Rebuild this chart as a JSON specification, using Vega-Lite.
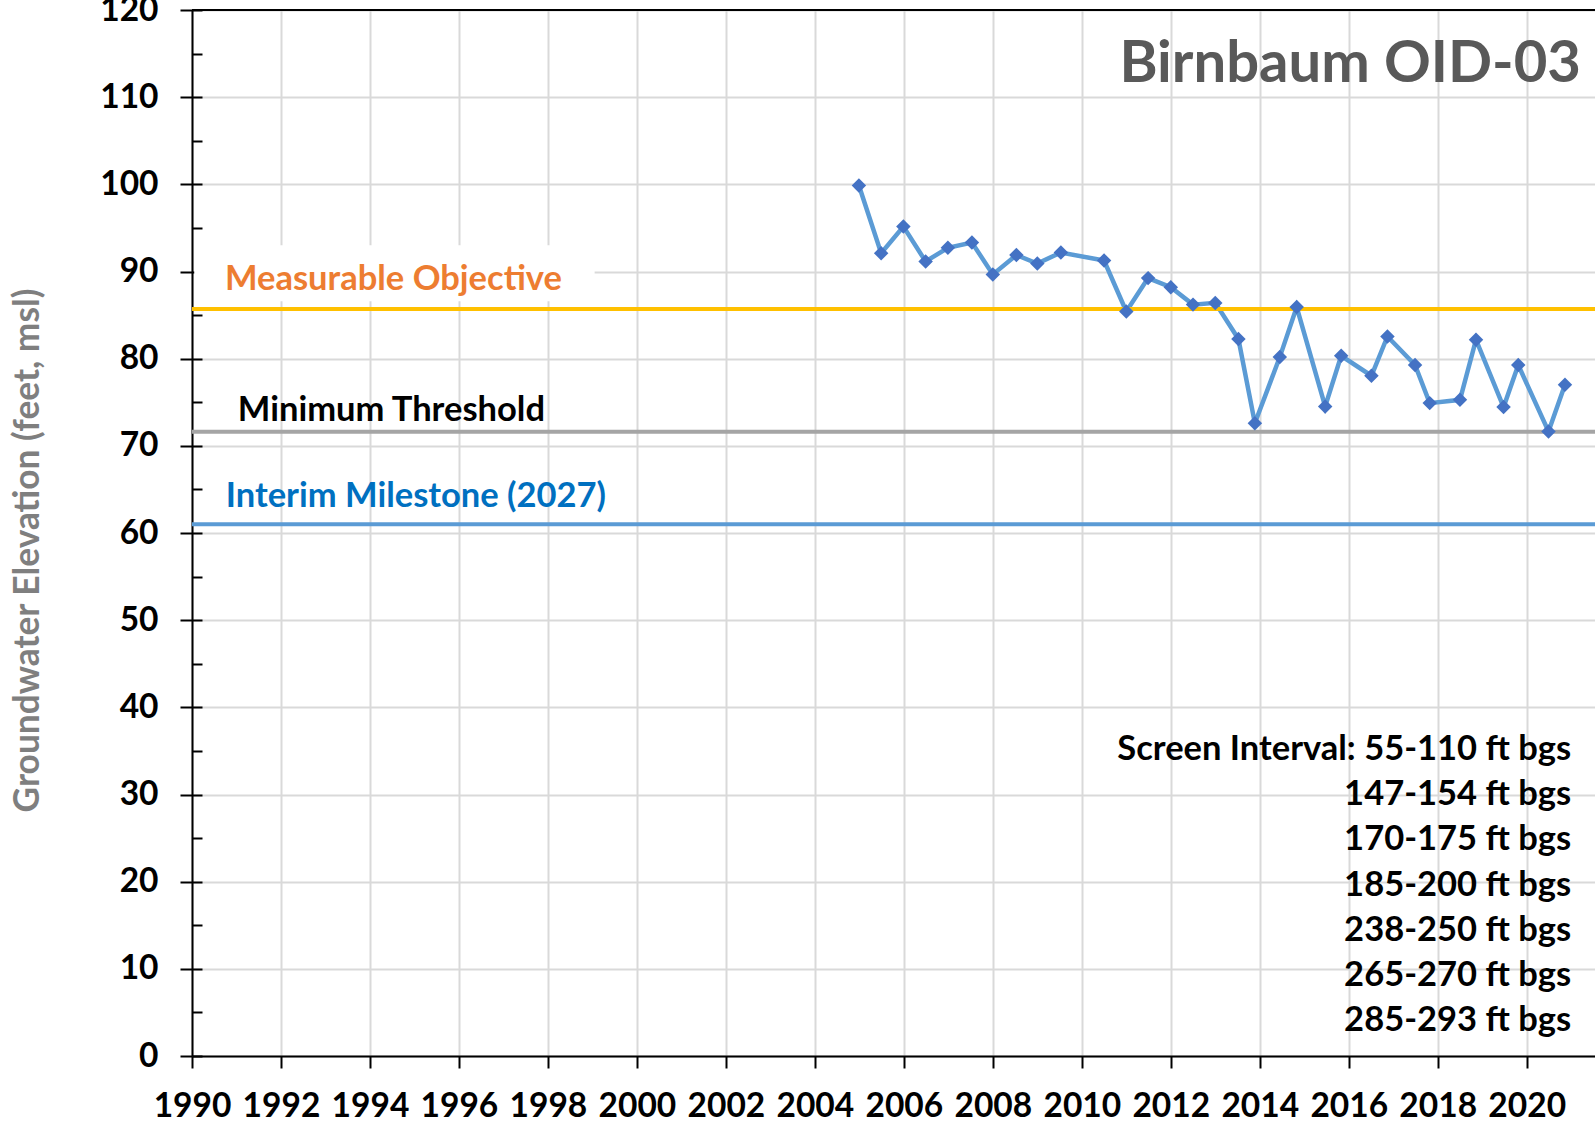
{
  "$schema": "https://vega.github.io/schema/vega-lite/v6.json",
  "width": 1403,
  "height": 1046,
  "autosize": {"type": "none"},
  "padding": {"left": 192, "top": 10, "right": 0, "bottom": 70},
  "background": "white",
  "config": {"view": {"stroke": null}, "font": "Lato"},
  "datasets": {
    "gw": [
      {"date": 2004.99, "elev": 99.86},
      {"date": 2005.49, "elev": 92.1},
      {"date": 2005.99, "elev": 95.16},
      {"date": 2006.49, "elev": 91.15},
      {"date": 2006.99, "elev": 92.72},
      {"date": 2007.53, "elev": 93.33},
      {"date": 2008.0, "elev": 89.66},
      {"date": 2008.53, "elev": 91.88},
      {"date": 2009.0, "elev": 90.92},
      {"date": 2009.53, "elev": 92.18},
      {"date": 2010.5, "elev": 91.26},
      {"date": 2011.0, "elev": 85.41},
      {"date": 2011.49, "elev": 89.24},
      {"date": 2012.0, "elev": 88.2},
      {"date": 2012.5, "elev": 86.2},
      {"date": 2013.0, "elev": 86.4},
      {"date": 2013.52, "elev": 82.26},
      {"date": 2013.89, "elev": 72.6},
      {"date": 2014.45, "elev": 80.18},
      {"date": 2014.83, "elev": 85.92},
      {"date": 2015.47, "elev": 74.52},
      {"date": 2015.83, "elev": 80.33},
      {"date": 2016.51, "elev": 78.04},
      {"date": 2016.87, "elev": 82.55},
      {"date": 2017.49, "elev": 79.27},
      {"date": 2017.82, "elev": 74.9},
      {"date": 2018.5, "elev": 75.28},
      {"date": 2018.86, "elev": 82.17},
      {"date": 2019.48, "elev": 74.45},
      {"date": 2019.81, "elev": 79.27},
      {"date": 2020.49, "elev": 71.65},
      {"date": 2020.86, "elev": 77.0}
    ],
    "thresholds": [
      {"name": "Measurable Objective", "elev": 85.7},
      {"name": "Minimum Threshold", "elev": 71.62},
      {"name": "Interim Milestone (2027)", "elev": 61}
    ],
    "screen": [
      {"lines": ["Screen Interval: 55-110 ft bgs", "147-154 ft bgs", "170-175 ft bgs", "185-200 ft bgs", "238-250 ft bgs", "265-270 ft bgs", "285-293 ft bgs"]}
    ]
  },
  "resolve": {"axis": {"y": "independent"}},
  "layer": [
    {
      "data": {"name": "gw"},
      "mark": {"type": "line", "color": "#5B9BD5", "strokeWidth": 4.5},
      "encoding": {
        "x": {
          "field": "date", "type": "quantitative",
          "scale": {"domain": [1990, 2021.535], "nice": false, "zero": false},
          "axis": {
            "values": [1990, 1992, 1994, 1996, 1998, 2000, 2002, 2004, 2006, 2008, 2010, 2012, 2014, 2016, 2018, 2020],
            "format": "d", "title": null,
            "labelFont": "Lato", "labelFontSize": 33.5, "labelFontWeight": "bold", "labelColor": "black",
            "tickSize": 12, "tickColor": "black", "tickWidth": 2,
            "domainColor": "black", "domainWidth": 2,
            "grid": true, "gridColor": "#d9d9d9", "gridWidth": 2,
            "labelPadding": 22, "labelFlush": false, "labelOverlap": false
          }
        },
        "y": {
          "field": "elev", "type": "quantitative",
          "scale": {"domain": [0, 120], "nice": false},
          "axis": {
            "orient": "left",
            "values": [0, 10, 20, 30, 40, 50, 60, 70, 80, 90, 100, 110, 120],
            "title": "Groundwater Elevation (feet, msl)",
            "titleFont": "Lato", "titleFontSize": 35.3, "titleFontWeight": "bold", "titleColor": "#7f7f7f",
            "titlePadding": 54, "titleY": 540,
            "labelFont": "Lato", "labelFontSize": 33.5, "labelFontWeight": "bold", "labelColor": "black",
            "tickSize": 12, "tickColor": "black", "tickWidth": 2,
            "domainColor": "black", "domainWidth": 2,
            "grid": true, "gridColor": "#d9d9d9", "gridWidth": 2,
            "labelPadding": 22, "labelFlush": false, "labelOverlap": false
          }
        }
      }
    },
    {
      "data": {"values": [{}]},
      "mark": {"type": "rect", "color": "white"},
      "encoding": {
        "x": {"datum": 1990.05, "type": "quantitative"},
        "x2": {"datum": 1999.05},
        "y": {"datum": 86.6, "type": "quantitative", "axis": {
          "orient": "left",
          "values": [0, 5, 10, 15, 20, 25, 30, 35, 40, 45, 50, 55, 60, 65, 70, 75, 80, 85, 90, 95, 100, 105, 110, 115, 120],
          "labels": false, "domain": false, "grid": false, "title": null,
          "tickSize": -10, "tickColor": "black", "tickWidth": 2
        }},
        "y2": {"datum": 93}
      }
    },
    {
      "data": {"values": [{}]},
      "mark": {"type": "rule", "color": "black", "strokeWidth": 2},
      "encoding": {"y": {"datum": 120, "type": "quantitative", "axis": null}}
    },
    {
      "data": {"name": "thresholds"},
      "mark": {"type": "rule", "strokeWidth": 4},
      "encoding": {
        "y": {"field": "elev", "type": "quantitative", "axis": null},
        "color": {
          "field": "name", "type": "nominal", "legend": null,
          "scale": {"domain": ["Measurable Objective", "Minimum Threshold", "Interim Milestone (2027)"], "range": ["#FFC000", "#A5A5A5", "#5B9BD5"]}
        }
      }
    },
    {
      "data": {"name": "gw"},
      "mark": {"type": "point", "shape": "diamond", "filled": true, "color": "#4472C4", "size": 210, "opacity": 1},
      "encoding": {
        "x": {"field": "date", "type": "quantitative"},
        "y": {"field": "elev", "type": "quantitative", "axis": null}
      }
    },
    {
      "data": {"name": "thresholds"},
      "transform": [{"filter": "datum.name === 'Measurable Objective'"}],
      "mark": {"type": "text", "align": "left", "baseline": "alphabetic", "dy": -19, "font": "Lato", "fontSize": 34.5, "fontWeight": "bold", "color": "#ED7D31"},
      "encoding": {
        "x": {"datum": 1990.74, "type": "quantitative"},
        "y": {"field": "elev", "type": "quantitative", "axis": null},
        "text": {"field": "name"}
      }
    },
    {
      "data": {"name": "thresholds"},
      "transform": [{"filter": "datum.name === 'Minimum Threshold'"}],
      "mark": {"type": "text", "align": "left", "baseline": "alphabetic", "dy": -11, "font": "Lato", "fontSize": 34.5, "fontWeight": "bold", "color": "black"},
      "encoding": {
        "x": {"datum": 1991.03, "type": "quantitative"},
        "y": {"field": "elev", "type": "quantitative", "axis": null},
        "text": {"field": "name"}
      }
    },
    {
      "data": {"name": "thresholds"},
      "transform": [{"filter": "datum.name === 'Interim Milestone (2027)'"}],
      "mark": {"type": "text", "align": "left", "baseline": "alphabetic", "dy": -17, "font": "Lato", "fontSize": 34.5, "fontWeight": "bold", "color": "#0070C0"},
      "encoding": {
        "x": {"datum": 1990.76, "type": "quantitative"},
        "y": {"field": "elev", "type": "quantitative", "axis": null},
        "text": {"field": "name"}
      }
    },
    {
      "data": {"name": "screen"},
      "mark": {"type": "text", "align": "right", "baseline": "alphabetic", "font": "Lato", "fontSize": 34.5, "fontWeight": "bold", "color": "black", "lineHeight": 45.2},
      "encoding": {
        "x": {"datum": 2021.0, "type": "quantitative"},
        "y": {"datum": 33.96, "type": "quantitative", "axis": null},
        "text": {"field": "lines"}
      }
    },
    {
      "data": {"values": [{"title": "Birnbaum OID-03"}]},
      "mark": {"type": "text", "align": "right", "baseline": "alphabetic", "font": "Lato", "fontSize": 58, "fontWeight": "bold", "color": "#595959"},
      "encoding": {
        "x": {"datum": 2021.22, "type": "quantitative"},
        "y": {"datum": 111.7, "type": "quantitative", "axis": null},
        "text": {"field": "title"}
      }
    }
  ]
}
